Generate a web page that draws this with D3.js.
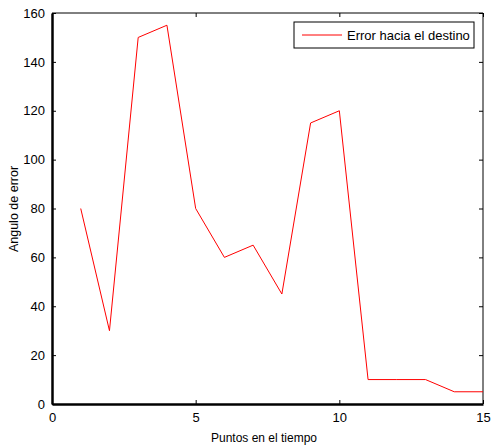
<!DOCTYPE html>
<html>
<head>
<meta charset="utf-8">
<script src="https://cdn.jsdelivr.net/npm/d3@7"></script>
<style>
  html, body { margin: 0; padding: 0; background: #fff; }
  svg text { font-family: "Liberation Sans", Arial, sans-serif; fill: #000; }
</style>
</head>
<body>
<svg id="chart" width="492" height="447"></svg>
<script>
// Error angle per time point
const puntos = [1, 2, 3, 4, 5, 6, 7, 8, 9, 10, 11, 12, 13, 14, 15];
const errorAngulo = [80, 30, 150, 155, 80, 60, 65, 45, 115, 120, 10, 10, 10, 5, 5];
const xTicks = [0, 5, 10, 15];
const yTicks = [0, 20, 40, 60, 80, 100, 120, 140, 160];
const serieNombre = "Error hacia el destino";

const svg = d3.select("#chart");
const m = { left: 52, right: 483, top: 13, bottom: 404 };

const x = d3.scaleLinear().domain([0, 15]).range([m.left, m.right]);
const y = d3.scaleLinear().domain([0, 160]).range([m.bottom, m.top]);

const tickLen = 4;

// Box (top and right edges)
svg.append("line").attr("x1", m.left).attr("x2", m.right).attr("y1", m.top).attr("y2", m.top)
  .attr("stroke", "#000").attr("stroke-width", 1);
svg.append("line").attr("x1", m.right).attr("x2", m.right).attr("y1", m.top).attr("y2", m.bottom)
  .attr("stroke", "#000").attr("stroke-width", 1);

// Bottom axis, ticks pointing inward
const xAxis = svg.append("g").attr("transform", `translate(0,${m.bottom})`)
  .call(d3.axisBottom(x).tickValues(xTicks).tickSizeInner(-tickLen).tickSizeOuter(0).tickPadding(9));
// Top edge ticks
svg.append("g").attr("transform", `translate(0,${m.top})`)
  .call(d3.axisTop(x).tickValues(xTicks).tickSizeInner(-tickLen).tickSizeOuter(0).tickFormat(""))
  .call(g => g.select(".domain").remove());

// Left axis, ticks pointing inward
const yAxis = svg.append("g").attr("transform", `translate(${m.left},0)`)
  .call(d3.axisLeft(y).tickValues(yTicks).tickSizeInner(-tickLen).tickSizeOuter(0).tickPadding(7));
// Right edge ticks
svg.append("g").attr("transform", `translate(${m.right},0)`)
  .call(d3.axisRight(y).tickValues(yTicks).tickSizeInner(-tickLen).tickSizeOuter(0).tickFormat(""))
  .call(g => g.select(".domain").remove());

svg.selectAll(".tick line").attr("stroke", "#000").attr("stroke-width", 1);
svg.selectAll(".tick text").attr("font-size", 13).attr("font-family", "Liberation Sans, Arial, sans-serif");
xAxis.select(".domain").attr("stroke", "#000").attr("stroke-width", 2.5);
yAxis.select(".domain").attr("stroke", "#000").attr("stroke-width", 2.5);

// Data line
const line = d3.line().x((d, i) => x(puntos[i])).y(d => y(d));
svg.append("path")
  .datum(errorAngulo)
  .attr("d", line)
  .attr("fill", "none")
  .attr("stroke", "#ff0000")
  .attr("stroke-width", 1);

// Legend
const lg = svg.append("g");
lg.append("rect").attr("x", 294).attr("y", 22).attr("width", 180).attr("height", 26)
  .attr("fill", "#fff").attr("stroke", "#000").attr("stroke-width", 1);
lg.append("line").attr("x1", 302).attr("x2", 342).attr("y1", 35).attr("y2", 35)
  .attr("stroke", "#ff0000").attr("stroke-width", 1);
lg.append("text").attr("x", 347).attr("y", 39.5).attr("font-size", 13).text(serieNombre);

// Axis titles
svg.append("text").attr("x", 264).attr("y", 442)
  .attr("text-anchor", "middle").attr("font-size", 12).text("Puntos en el tiempo");
svg.append("text").attr("transform", `translate(18,209) rotate(-90)`)
  .attr("text-anchor", "middle").attr("font-size", 12.5).text("Angulo de error");
</script>
</body>
</html>
